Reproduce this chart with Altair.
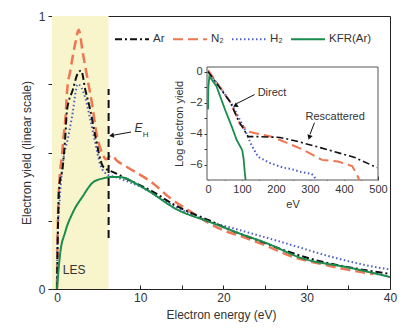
import altair as alt
import pandas as pd

# ---------------- data ----------------
series_names = ["Ar", "N₂", "H₂", "KFR(Ar)"]
series_colors = ["#111111", "#ee7652", "#4b5fc4", "#1a8c4e"]
series_dashes = [[7, 3, 2, 3], [10, 5], [1.5, 2.5], [1, 0]]

# main panel: electron energy (eV) vs. yield (linear)
ar_x = [0.0, 0.1, 0.25, 0.7, 1.0, 1.2, 1.9, 2.5, 2.9, 3.4, 4.0, 4.6, 5.5, 6.1, 6.6, 8.6, 11.6, 14.0, 16.0, 18.4, 20.5, 24.0, 27.0, 30.8, 35.0, 38.5, 40.0]
ar_y = [0.0, 0.2, 0.37, 0.45, 0.56, 0.655, 0.73, 0.79, 0.80, 0.73, 0.655, 0.56, 0.45, 0.436, 0.43, 0.40, 0.355, 0.31, 0.28, 0.25, 0.22, 0.18, 0.145, 0.108, 0.08, 0.062, 0.055]

n2_x = [0.0, 0.05, 0.15, 0.3, 0.6, 0.8, 1.0, 1.2, 1.6, 2.2, 2.6, 3.1, 3.6, 4.2, 4.8, 5.4, 5.9, 6.5, 7.2, 8.4, 11.4, 13.6, 15.7, 19.6, 22.4, 25.0, 28.4, 32.0, 35.0, 38.0]
n2_y = [0.0, 0.15, 0.3, 0.4, 0.49, 0.56, 0.62, 0.72, 0.80, 0.90, 0.95, 0.865, 0.78, 0.68, 0.56, 0.50, 0.475, 0.49, 0.47, 0.447, 0.39, 0.333, 0.29, 0.22, 0.19, 0.16, 0.117, 0.09, 0.07, 0.055]

h2_x = [0.0, 0.05, 0.36, 0.7, 1.3, 1.8, 2.5, 3.4, 4.0, 4.6, 5.2, 6.0, 7.0, 10.0, 14.0, 18.0, 21.7, 27.2, 33.3, 39.3, 40.0]
h2_y = [0.0, 0.16, 0.345, 0.46, 0.55, 0.63, 0.75, 0.70, 0.62, 0.535, 0.455, 0.42, 0.41, 0.375, 0.305, 0.25, 0.218, 0.17, 0.115, 0.075, 0.072]

kfr_x = [0.0, 0.36, 1.0, 1.9, 3.1, 4.3, 5.5, 6.5, 7.5, 10.4, 14.5, 18.4, 22.4, 25.0, 29.3, 35.3, 40.0]
kfr_y = [0.0, 0.125, 0.21, 0.28, 0.34, 0.39, 0.405, 0.41, 0.41, 0.37, 0.29, 0.245, 0.198, 0.17, 0.114, 0.077, 0.044]

# inset: energy (eV) vs log yield
ar_ix = [0, 35, 65, 88, 118, 153, 212, 262, 353, 432, 497]
ar_iy = [0.0, -1.05, -1.95, -3.1, -4.2, -4.2, -4.25, -4.5, -5.05, -5.55, -6.2]

n2_ix = [0, 35, 65, 85, 94, 124, 153, 188, 232, 276, 335, 382, 424, 438, 445]
n2_iy = [0.1, -1.0, -1.95, -2.9, -3.4, -3.9, -4.05, -4.2, -4.6, -5.0, -5.7, -5.8, -6.1, -6.65, -7.0]

h2_ix = [0, 35, 70, 103, 129, 147, 182, 221, 246, 276, 305, 320]
h2_iy = [0.0, -1.0, -2.1, -3.5, -4.8, -5.5, -5.9, -6.2, -6.3, -6.5, -6.6, -7.0]

kfr_ix = [0, 1, 3.9, 25, 50, 69, 84, 94, 101, 105, 108, 110.5]
kfr_iy = [-2.45, -1.0, -0.3, -0.95, -2.45, -3.5, -4.4, -4.8, -5.1, -5.7, -6.5, -7.0]

les_range = [-0.6, 6.2]
eh_energy = 6.2
eh_span = [0.187, 0.733]

# ---------------- layout ----------------
W, H = 338, 273
FONT = "Liberation Sans"
TXT = "#333333"

main_rows = []
for name, xs, ys in [("Ar", ar_x, ar_y), ("N₂", n2_x, n2_y), ("H₂", h2_x, h2_y), ("KFR(Ar)", kfr_x, kfr_y)]:
    for i, (a, b) in enumerate(zip(xs, ys)):
        main_rows.append({"series": name, "x": a, "y": b, "i": i})
main_df = pd.DataFrame(main_rows)

inset_rows = []
for name, xs, ys in [("Ar", ar_ix, ar_iy), ("N₂", n2_ix, n2_iy), ("H₂", h2_ix, h2_iy), ("KFR(Ar)", kfr_ix, kfr_iy)]:
    for i, (a, b) in enumerate(zip(xs, ys)):
        inset_rows.append({"series": name, "x": a, "y": b, "i": i})
inset_df = pd.DataFrame(inset_rows)

legend = alt.Legend(
    orient="none", legendX=62, legendY=5, direction="horizontal", title=None,
    symbolType="stroke", symbolSize=1156, symbolStrokeWidth=2,
    labelFontSize=11.5, labelFont=FONT, labelColor=TXT, labelOffset=3,
    columnPadding=4, padding=0,
)
color_enc = alt.Color("series:N", scale=alt.Scale(domain=series_names, range=series_colors), legend=legend)
dash_enc = alt.StrokeDash("series:N", scale=alt.Scale(domain=series_names, range=series_dashes), legend=legend)

# main scales/axes
xs_main = alt.Scale(domain=[-0.6, 40], nice=False, zero=False)
ys_main = alt.Scale(domain=[0, 1], nice=False, zero=False)
ax_x = alt.Axis(
    values=list(range(0, 41, 5)), labelExpr="datum.value % 10 == 0 ? datum.label : ''",
    domain=False, offset=-4, tickSize=4, tickColor="#222", labelPadding=3, labelFlush=False,
    labelFontSize=12, labelFont=FONT, labelColor=TXT, grid=False,
    title="Electron energy (eV)", titleFont=FONT, titleFontSize=12, titleFontWeight="normal",
    titleColor=TXT, titlePadding=6,
)
ax_y = alt.Axis(
    values=[0, 0.25, 0.5, 0.75, 1],
    labelExpr="datum.value == 0 ? '0' : (datum.value == 1 ? '1' : '')",
    domain=False, tickSize=4, tickColor="#222", labelPadding=3, labelFlush=False,
    labelFontSize=12, labelFont=FONT, labelColor=TXT, grid=False,
    title="Electron yield (linear scale)", titleFont=FONT, titleFontSize=12, titleFontWeight="normal",
    titleColor=TXT, titlePadding=5,
)

def MX(f):
    return alt.X(f, type="quantitative", scale=xs_main, axis=ax_x)

def MY(f):
    return alt.Y(f, type="quantitative", scale=ys_main, axis=ax_y)

les_df = pd.DataFrame({"x0": [les_range[0]], "x1": [les_range[1]], "y0": [0], "y1": [1]})
les = alt.Chart(les_df).mark_rect(color="#f8f4cc").encode(
    x=MX("x0"), x2="x1", y=MY("y0"), y2="y1"
)

def main_line(name, width):
    return alt.Chart(main_df).transform_filter(alt.datum.series == name).mark_line(
        strokeWidth=width, clip=True, interpolate="monotone"
    ).encode(x=MX("x"), y=MY("y"), order="i:Q", color=color_enc, strokeDash=dash_enc)

eh_df = pd.DataFrame({"x": [eh_energy], "y0": [eh_span[0]], "y1": [eh_span[1]]})
eh_line = alt.Chart(eh_df).mark_rule(color="#111", strokeWidth=2, strokeDash=[8, 5]).encode(
    x=MX("x"), y=MY("y0"), y2="y1"
)
eh_arrow_df = pd.DataFrame({"x": [8.9], "y": [0.575], "x2": [6.7], "y2": [0.563]})
eh_arrow = alt.Chart(eh_arrow_df).mark_rule(color="#111", strokeWidth=1).encode(
    x=MX("x"), y=MY("y"), x2="x2", y2="y2"
)
eh_head = alt.Chart(pd.DataFrame({"x": [6.55], "y": [0.562]})).mark_point(
    shape="triangle-down", angle=80, filled=True, size=30, color="#111", opacity=1
).encode(x=MX("x"), y=MY("y"))
eh_E = alt.Chart(pd.DataFrame({"x": [9.3], "y": [0.588], "t": ["E"]})).mark_text(
    font=FONT, fontSize=12, fontStyle="italic", color=TXT, align="left", baseline="middle"
).encode(x=MX("x"), y=MY("y"), text="t:N")
eh_H = alt.Chart(pd.DataFrame({"x": [10.3], "y": [0.565], "t": ["H"]})).mark_text(
    font=FONT, fontSize=8, color=TXT, align="left", baseline="middle"
).encode(x=MX("x"), y=MY("y"), text="t:N")
les_txt = alt.Chart(pd.DataFrame({"x": [2.05], "y": [0.07], "t": ["LES"]})).mark_text(
    font=FONT, fontSize=12, color=TXT, align="center", baseline="middle"
).encode(x=MX("x"), y=MY("y"), text="t:N")

main_layer = alt.layer(
    les,
    main_line("N₂", 2.5),
    main_line("H₂", 2),
    main_line("Ar", 2),
    main_line("KFR(Ar)", 2),
    eh_line, eh_arrow, eh_head, eh_E, eh_H, les_txt,
)

# inset scales/axes
xs_in = alt.Scale(domain=[-3, 500], range=[155, 326], nice=False, zero=False)
ys_in = alt.Scale(domain=[-7, 0.3], range=[164, 51], nice=False, zero=False)
ax_xi = alt.Axis(
    orient="bottom", values=list(range(0, 501, 50)),
    labelExpr="datum.value % 100 == 0 ? datum.label : ''",
    domain=False, offset=-113, tickSize=4, tickColor="#333", labelPadding=3, labelFlush=False,
    labelFontSize=11, labelFont=FONT, labelColor=TXT, grid=False,
    title="eV", titleFont=FONT, titleFontSize=11, titleFontWeight="normal", titleColor=TXT, titlePadding=4,
)
ax_yi = alt.Axis(
    orient="left", values=[-6, -5, -4, -3, -2, -1, 0],
    labelExpr="datum.value % 2 == 0 ? datum.label : ''",
    domain=False, offset=-155, tickSize=3, tickColor="#333", labelPadding=2, labelFlush=False,
    labelFontSize=11, labelFont=FONT, labelColor=TXT, grid=False,
    title="Log electron yield", titleFont=FONT, titleFontSize=11, titleFontWeight="normal",
    titleColor=TXT, titlePadding=5,
)

def IX(f):
    return alt.X(f, type="quantitative", scale=xs_in, axis=ax_xi)

def IY(f):
    return alt.Y(f, type="quantitative", scale=ys_in, axis=ax_yi)

frame_df = pd.DataFrame({"x0": [-3], "x1": [500], "y0": [-7], "y1": [0.3]})
frame = alt.Chart(frame_df).mark_rect(fill="white", stroke="#555", strokeWidth=1).encode(
    x=IX("x0"), x2="x1", y=IY("y0"), y2="y1"
)

def inset_line(name, width):
    return alt.Chart(inset_df).transform_filter(alt.datum.series == name).mark_line(
        strokeWidth=width
    ).encode(x=IX("x"), y=IY("y"), order="i:Q", color=color_enc, strokeDash=dash_enc)

ann_lines = alt.Chart(pd.DataFrame({
    "x": [137, 313], "y": [-1.48, -3.3], "x2": [84, 300], "y2": [-2.07, -4.05]
})).mark_rule(color="#111", strokeWidth=1).encode(x=IX("x"), y=IY("y"), x2="x2", y2="y2")
ann_head1 = alt.Chart(pd.DataFrame({"x": [80], "y": [-2.2]})).mark_point(
    shape="triangle-down", angle=61, filled=True, size=30, color="#111", opacity=1
).encode(x=IX("x"), y=IY("y"))
ann_head2 = alt.Chart(pd.DataFrame({"x": [298], "y": [-4.25]})).mark_point(
    shape="triangle-down", angle=18, filled=True, size=30, color="#111", opacity=1
).encode(x=IX("x"), y=IY("y"))
ann_txt1 = alt.Chart(pd.DataFrame({"x": [146], "y": [-1.35], "t": ["Direct"]})).mark_text(
    font=FONT, fontSize=11, color=TXT, align="left", baseline="middle"
).encode(x=IX("x"), y=IY("y"), text="t:N")
ann_txt2 = alt.Chart(pd.DataFrame({"x": [374], "y": [-2.9], "t": ["Rescattered"]})).mark_text(
    font=FONT, fontSize=11, color=TXT, align="center", baseline="middle"
).encode(x=IX("x"), y=IY("y"), text="t:N")

inset_layer = alt.layer(
    frame,
    inset_line("N₂", 2),
    inset_line("H₂", 2),
    inset_line("Ar", 1.6),
    inset_line("KFR(Ar)", 1.8),
    ann_lines, ann_head1, ann_head2, ann_txt1, ann_txt2,
)

chart = alt.layer(main_layer, inset_layer).resolve_scale(
    x="independent", y="independent"
).resolve_axis(
    x="independent", y="independent"
).properties(
    width=W, height=H,
    autosize=alt.AutoSizeParams(type="none"),
    padding={"left": 52, "top": 16, "right": 25, "bottom": 47},
    background="white",
).configure_view(stroke="#222", strokeWidth=1)

chart.save("out.html", embed_options={"renderer": "svg", "actions": False})
